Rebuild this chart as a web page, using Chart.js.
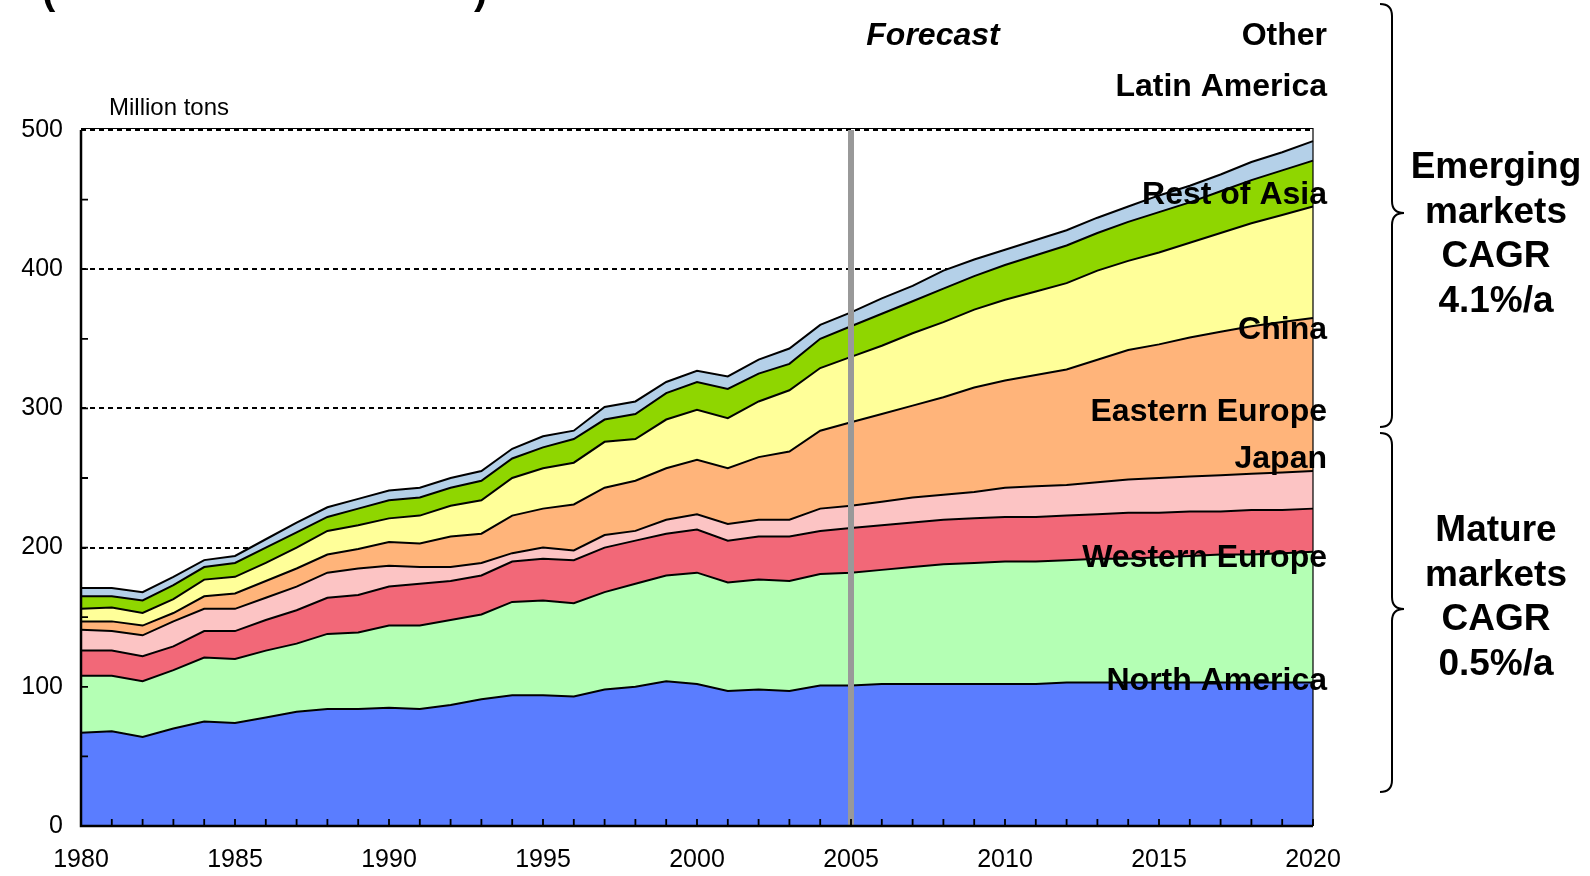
<!DOCTYPE html>
<html>
<head>
<meta charset="utf-8">
<script src="https://cdn.jsdelivr.net/npm/chart.js@4.4.0/dist/chart.umd.min.js"></script>
<style>
  html, body { margin: 0; padding: 0; background: #fff; }
  #wrap { width: 1590px; height: 876px; }
</style>
</head>
<body>
<div id="wrap"><canvas id="chart" width="1590" height="876"></canvas></div>
<script>
// categories
const years = ['1980','1981','1982','1983','1984','1985','1986','1987','1988','1989',
  '1990','1991','1992','1993','1994','1995','1996','1997','1998','1999',
  '2000','2001','2002','2003','2004','2005','2006','2007','2008','2009',
  '2010','2011','2012','2013','2014','2015','2016','2017','2018','2019','2020'];

const regions = ['North America', 'Western Europe', 'Japan', 'Eastern Europe',
  'China', 'Rest of Asia', 'Latin America', 'Other'];

// million tons per region (stacked, bottom to top)
const northAmerica = [67,68,64,70,75,74,78,82,84,84, 85,84,87,91,94,94,93,98,100,104,
  102,97,98,97,101,101,102,102,102,102, 102,102,103,103,103,103,103,103,103,103,103];
const westernEurope = [41,40,40,42,46,46,48,49,54,55, 59,60,61,61,67,68,67,70,74,76,
  80,78,79,79,80,81,82,84,86,87, 88,88,88,89,89,90,91,92,92,93,94];
const japan = [18,18,18,17,19,20,22,24,26,27, 28,30,28,28,29,30,31,32,31,30,
  31,30,31,32,31,32,32,32,32,32, 32,32,32,32,33,32,32,31,32,31,31];
const easternEurope = [15,14,15,18,16,16,16,17,18,19, 15,12,10,9,6,8,7,9,7,10,
  11,12,12,12,16,16,17,18,18,19, 21,22,22,23,24,25,25,26,26,27,27];
const china = [6,7,7,6,9,11,12,13,13,14, 17,17,22,21,27,28,33,34,36,37,
  39,40,45,49,56,60,63,66,70,75, 77,80,83,88,93,96,100,103,106,108,110];
const restOfAsia = [9,10,9,10,12,12,13,15,17,17, 17,20,22,24,27,29,30,33,30,35,
  36,36,40,44,45,47,49,52,54,56, 58,60,62,64,64,66,68,71,74,77,80];
const latinAmerica = [9,8,9,10,9,10,11,11,10,12, 13,13,13,14,14,15,17,16,18,19,
  20,21,20,19,21,22,23,23,24,24, 25,26,27,27,28,29,29,30,31,32,33];
const other = [6,6,6,6,5,5,6,7,7,7, 7,7,7,7,7,8,6,9,9,8,
  8,9,10,11,10,10,11,11,13,12, 11,11,11,11,11,12,12,12,13,13,14];

const seriesValues = [northAmerica, westernEurope, japan, easternEurope,
  china, restOfAsia, latinAmerica, other];
const fills = ['#5a7dff', '#b4ffb4', '#f26878', '#fcc4c4',
  '#ffb47a', '#ffff99', '#8fd600', '#b4d0e8'];

const yTicks = [0, 100, 200, 300, 400, 500];
const dashedGrid = [200, 300, 400, 500];
const forecastYear = '2005';

const FONT = "'Liberation Sans', Arial, sans-serif";

function drawBrace(ctx, x, y1, y2, tipY, r) {
  ctx.beginPath();
  ctx.moveTo(x - r, y1);
  ctx.quadraticCurveTo(x, y1, x, y1 + r);
  ctx.lineTo(x, tipY - r);
  ctx.quadraticCurveTo(x, tipY, x + r, tipY);
  ctx.quadraticCurveTo(x, tipY, x, tipY + r);
  ctx.lineTo(x, y2 - r);
  ctx.quadraticCurveTo(x, y2, x - r, y2);
  ctx.stroke();
}

const decor = {
  id: 'decor',
  beforeDatasetsDraw(chart) {
    const { ctx, chartArea: a, scales: { y } } = chart;
    ctx.save();
    ctx.strokeStyle = '#000';
    ctx.lineWidth = 2;
    ctx.setLineDash([5, 4]);
    dashedGrid.forEach(v => {
      const py = Math.round(y.getPixelForValue(v));
      ctx.beginPath();
      ctx.moveTo(a.left, py);
      ctx.lineTo(a.right, py);
      ctx.stroke();
    });
    ctx.restore();
  },
  afterDatasetsDraw(chart) {
    const { ctx, chartArea: a, scales: { x, y } } = chart;
    ctx.save();
    // forecast divider
    const fx = x.getPixelForValue(years.indexOf(forecastYear));
    ctx.strokeStyle = '#999999';
    ctx.lineWidth = 6;
    ctx.beginPath();
    ctx.moveTo(fx, a.top);
    ctx.lineTo(fx, a.bottom);
    ctx.stroke();

    // frame
    ctx.strokeStyle = '#000';
    ctx.lineWidth = 1.2;
    ctx.beginPath();
    ctx.moveTo(a.left, a.top - 1.5);
    ctx.lineTo(a.right, a.top - 1.5);
    ctx.lineTo(a.right, a.bottom);
    ctx.stroke();

    ctx.lineWidth = 2.5;
    ctx.beginPath();
    ctx.moveTo(a.left, a.top);
    ctx.lineTo(a.left, a.bottom);
    ctx.lineTo(a.right, a.bottom);
    ctx.stroke();

    // inside tick marks
    ctx.lineWidth = 1.8;
    ctx.beginPath();
    years.forEach((yr, i) => {
      const px = x.getPixelForValue(i);
      ctx.moveTo(px, a.bottom);
      ctx.lineTo(px, a.bottom - 7);
    });
    for (let v = 50; v < 500; v += 50) {
      const py = y.getPixelForValue(v);
      ctx.moveTo(a.left, py);
      ctx.lineTo(a.left + 7, py);
    }
    ctx.stroke();
    ctx.restore();
  },
  afterDraw(chart) {
    const { ctx } = chart;
    ctx.save();
    ctx.fillStyle = '#000';

    // clipped title remains
    ctx.font = 'bold 40px ' + FONT;
    ctx.textAlign = 'left';
    ctx.textBaseline = 'alphabetic';
    ctx.fillText('(', 42, 4);
    ctx.fillText(')', 474, 4);

    ctx.textBaseline = 'middle';
    ctx.font = '24px ' + FONT;
    ctx.fillText('Million tons', 109, 108);

    ctx.font = 'italic bold 32px ' + FONT;
    ctx.textAlign = 'center';
    ctx.fillText('Forecast', 933, 36);

    // region labels
    const labelY = [681, 558, 459, 412, 330, 195, 87, 36];
    ctx.font = 'bold 32px ' + FONT;
    ctx.textAlign = 'right';
    regions.forEach((r, i) => ctx.fillText(r, 1327, labelY[i]));

    // braces
    ctx.strokeStyle = '#000';
    ctx.lineWidth = 2;
    drawBrace(ctx, 1392, 4, 427, 213, 12);
    drawBrace(ctx, 1392, 433, 792, 609, 12);

    ctx.font = 'bold 37px ' + FONT;
    ctx.textAlign = 'center';
    ['Emerging', 'markets', 'CAGR', '4.1%/a'].forEach((t, i) => ctx.fillText(t, 1496, 168 + i * 44.5));
    ['Mature', 'markets', 'CAGR', '0.5%/a'].forEach((t, i) => ctx.fillText(t, 1496, 531 + i * 44.5));
    ctx.restore();
  }
};

new Chart(document.getElementById('chart'), {
  type: 'line',
  data: {
    labels: years,
    datasets: seriesValues.map((vals, i) => ({
      label: regions[i],
      data: vals,
      backgroundColor: fills[i],
      borderColor: '#000',
      borderWidth: 2,
      pointRadius: 0,
      tension: 0,
      fill: i === 0 ? 'origin' : '-1'
    }))
  },
  options: {
    responsive: false,
    animation: false,
    devicePixelRatio: 1,
    layout: { padding: { top: 130, right: 277, bottom: 0, left: 0 } },
    plugins: { legend: { display: false }, tooltip: { enabled: false } },
    scales: {
      x: {
        grid: { display: false, drawTicks: false },
        border: { display: false },
        afterFit: s => { s.height = 50; },
        ticks: {
          autoSkip: false,
          maxRotation: 0,
          padding: 19,
          color: '#000',
          font: { size: 25, family: FONT },
          callback: (v, i) => (Number(years[i]) % 5 === 0 ? years[i] : '')
        }
      },
      y: {
        stacked: true,
        min: 0,
        max: 500,
        grid: { display: false, drawTicks: false },
        border: { display: false },
        afterFit: s => { s.width = 81; },
        afterBuildTicks: s => { s.ticks = yTicks.map(v => ({ value: v })); },
        ticks: {
          padding: 18,
          color: '#000',
          font: { size: 25, family: FONT }
        }
      }
    }
  },
  plugins: [decor]
});
</script>
</body>
</html>
